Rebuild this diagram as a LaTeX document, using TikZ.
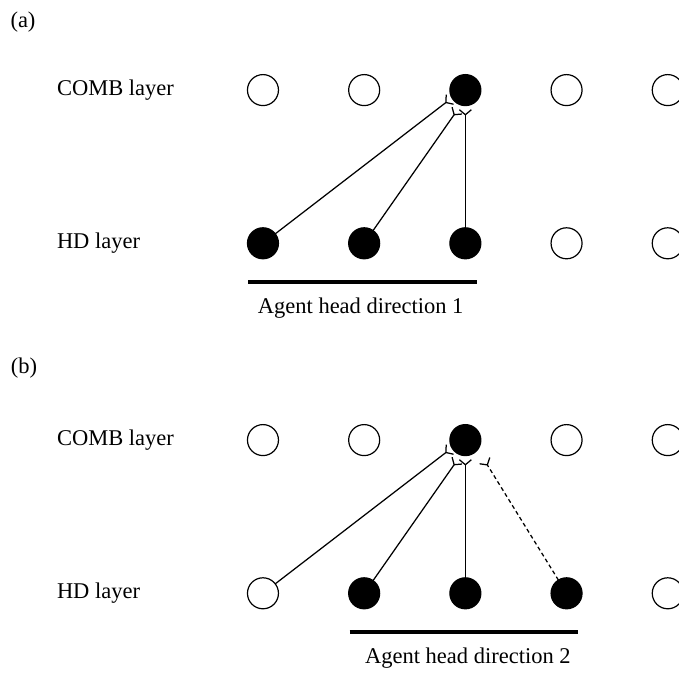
\documentclass[tikz,border=0pt]{standalone}
\usepackage{fontspec}
\setmainfont{Liberation Serif}
\usetikzlibrary{matrix}
\usetikzlibrary{arrows.meta}
\usetikzlibrary{calc}

\begin{document}
\begin{tikzpicture}[x=1pt,y=1pt,font=\fontsize{22.5}{27}\selectfont,
    cell/.style={circle,draw,line width=1.2pt,minimum size=31pt,inner sep=0pt},
    off/.style={cell},
    on/.style={cell,fill=black},
    layer/.style={anchor=west,inner sep=4pt},
    syn/.style={line width=1.25pt,-{Straight Barb[reversed,length=5pt,width=12pt]}},
    dirbar/.style={line width=4pt}]
      \useasboundingbox (0,0) rectangle (679,676);

      \node (pa) at (23,654) {(a)};
      \matrix(ma)[matrix of nodes, nodes in empty cells, row sep=121pt, column sep=69pt,
      inner sep=0pt, outer sep=0pt, matrix anchor=north west,
      column 1/.style={nodes={layer}}] at (53,602) {
        COMB layer & |[off]| & |[off]| & |[on]| & |[off]| & |[off]| \\
        HD layer   & |[on]|  & |[on]|  & |[on]| & |[off]| & |[off]| \\};
      \coordinate (ta1) at ($(ma-1-4)+(-15,-9)$);
      \coordinate (ta2) at ($(ma-1-4)+(-8,-20)$);
      \coordinate (ta3) at ($(ma-1-4)+(0,-19)$);
      \path[syn] (ma-2-2) edge (ta1);
      \path[syn] (ma-2-3) edge (ta2);
      \path[syn] (ma-2-4) edge (ta3);
      \coordinate (ba1) at ($(ma-2-2.west)+(1,-39)$);
      \coordinate (ba2) at ($(ma-2-4.east)+(-4,-39)$);
      \draw[dirbar] (ba1) -- (ba2);
      \node[anchor=north,inner sep=0pt] (da) at ($(ba1)!.5!(ba2)+(-2,-15)$) {Agent head direction 1};

      \node (pb) at (24,308) {(b)};
      \matrix(mb)[matrix of nodes, nodes in empty cells, row sep=121pt, column sep=69pt,
      inner sep=0pt, outer sep=0pt, matrix anchor=north west,
      column 1/.style={nodes={layer}}] at (53,252) {
        COMB layer & |[off]| & |[off]| & |[on]| & |[off]| & |[off]| \\
        HD layer   & |[off]| & |[on]|  & |[on]| & |[on]|  & |[off]| \\};
      \coordinate (tb1) at ($(mb-1-4)+(-15,-9)$);
      \coordinate (tb2) at ($(mb-1-4)+(-8,-20)$);
      \coordinate (tb3) at ($(mb-1-4)+(0,-19)$);
      \coordinate (tb4) at ($(mb-1-4)+(19,-20)$);
      \path[syn] (mb-2-2) edge (tb1);
      \path[syn] (mb-2-3) edge (tb2);
      \path[syn] (mb-2-4) edge (tb3);
      \path[syn,dash pattern=on 4pt off 3pt] (mb-2-5) edge (tb4);
      \coordinate (bb1) at ($(mb-2-3.west)+(1,-39)$);
      \coordinate (bb2) at ($(mb-2-5.east)+(-4,-39)$);
      \draw[dirbar] (bb1) -- (bb2);
      \node[anchor=north,inner sep=0pt] (db) at ($(bb1)!.5!(bb2)+(4,-15)$) {Agent head direction 2};
    \end{tikzpicture}
\end{document}
